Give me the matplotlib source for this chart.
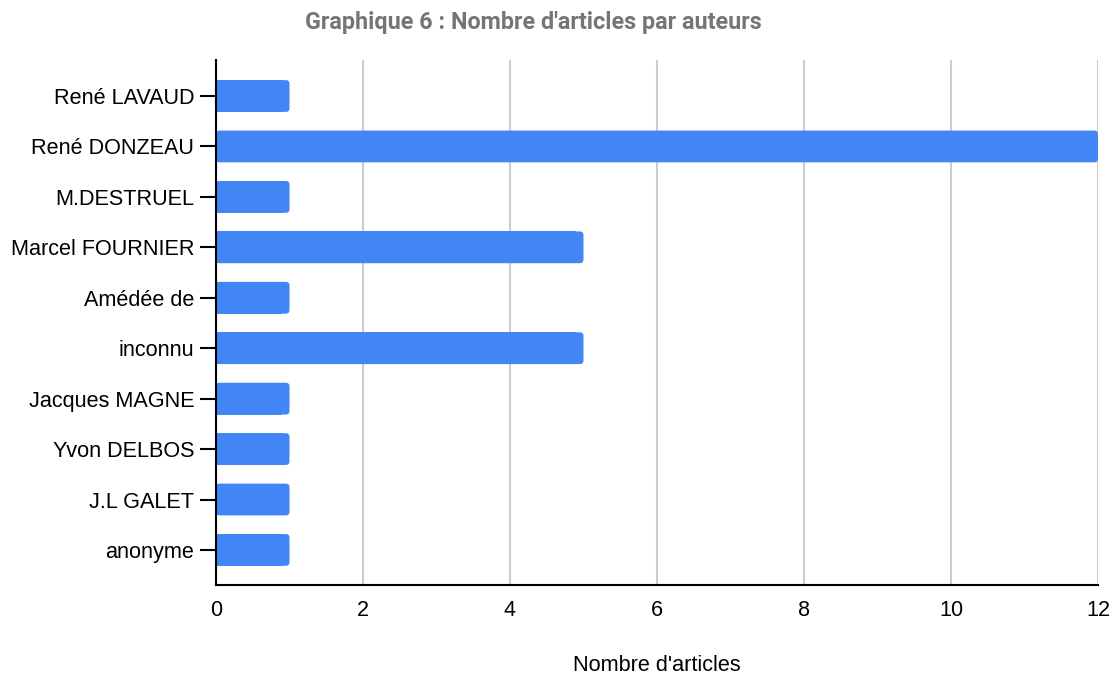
import matplotlib.pyplot as plt
from matplotlib.patches import FancyBboxPatch
import numpy as np

# data, top to bottom
auteurs = ['René LAVAUD', 'René DONZEAU', 'M.DESTRUEL', 'Marcel FOURNIER', 'Amédée de',
           'inconnu', 'Jacques MAGNE', 'Yvon DELBOS', 'J.L GALET', 'anonyme']
nb_articles = [1, 12, 1, 5, 1, 5, 1, 1, 1, 1]
x_ticks = [0, 2, 4, 6, 8, 10, 12]

plt.rcParams['font.family'] = ['Liberation Sans', 'DejaVu Sans']

fig = plt.figure(figsize=(11.16, 6.77), dpi=100)
ax = fig.add_axes([216/1116, 1-585/677, (1098-216)/1116, (585-60)/677])

pos = np.arange(len(auteurs))
h = 0.63
color = '#4285f4'
# square left part, rounded right end
ax.barh(pos, [max(v - 0.1, 0) for v in nb_articles], height=h, color=color, zorder=3)
for p, v in zip(pos, nb_articles):
    ax.add_patch(FancyBboxPatch((0, p - h/2), v, h, boxstyle='round,pad=0,rounding_size=0.05',
                                mutation_aspect=73.5/50.44, facecolor=color, edgecolor='none',
                                zorder=3))

ax.set_xlim(0, 12)
ax.set_ylim(9.695, -0.714)
ax.set_xticks(x_ticks)
ax.set_yticks(pos)
ax.set_yticklabels(auteurs, fontsize=15.6)
ax.tick_params(axis='x', length=0, labelsize=15.6, pad=11)
ax.tick_params(axis='y', length=23, width=1.5, direction='inout', pad=4.2, color='black')

ax.grid(axis='x', color='#cccccc', linewidth=1.5, zorder=0)
for s in ['top', 'right']:
    ax.spines[s].set_visible(False)
ax.spines['left'].set_linewidth(1.5)
ax.spines['bottom'].set_linewidth(1.5)
ax.spines['left'].set_zorder(4)

ax.set_xlabel("Nombre d'articles", fontsize=15.6, labelpad=24)
fig.text(533/1116, 1-22/677, "Graphique 6 : Nombre d'articles par auteurs", ha='center', va='center',
         fontsize=16.8, fontweight='bold', color='#757575', family=['Roboto', 'DejaVu Sans'])

fig.savefig('out.png', dpi=100)
